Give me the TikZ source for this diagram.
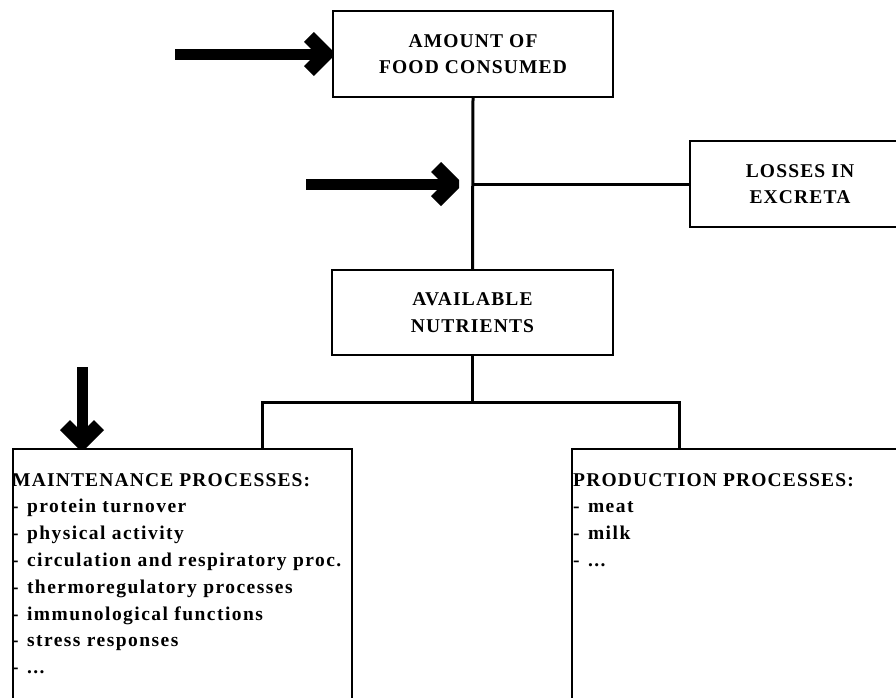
\documentclass[tikz,border=0pt]{standalone}
\usepackage{fontspec}
\setmainfont{Liberation Serif}[LetterSpace=6]
\newfontfamily\bodyfont{Liberation Serif}[LetterSpace=7.5]
\newcommand{\dashitem}{-\kern2pt\ }
\tikzset{
  box/.style={draw, line width=2.2pt, inner sep=0pt, align=center,
    font=\bfseries\fontsize{19.5}{26.5}\selectfont},
  openbox/.style={draw, line width=2.2pt, inner sep=0pt, anchor=north west},
  conn/.style={line width=3pt},
  shaft/.style={line width=11pt},
  chev/.pic={\fill (0,-4)--(-18,-22)--(-27.9,-12.1)--(-15.8,0)--(-27.9,12.1)--(-18,22)--(0,4)--cycle;},
  listtext/.style={inner sep=0pt, align=left, anchor=north west,
    font=\bodyfont\bfseries\fontsize{19.5}{26.8}\selectfont}
}
\begin{document}
\begin{tikzpicture}[x=1pt,y=-1pt]
\useasboundingbox (0,0) rectangle (896,697);
\clip (0,0) rectangle (896,697);
% boxes
\node[box, minimum width=280pt, minimum height=86pt] (food) at (473,54) {AMOUNT OF\\FOOD CONSUMED};
\node[box, minimum width=220pt, minimum height=86pt] (loss) at (800,184) {LOSSES IN\\EXCRETA};
\node[box, minimum width=281pt, minimum height=85pt] (avail) at (472.5,312.5) {AVAILABLE\\NUTRIENTS};
\node[openbox, minimum width=339pt, minimum height=300pt] (maint) at (12,448) {};
\node[openbox, minimum width=360pt, minimum height=300pt] (prod) at (571,448) {};
% box texts
\node[listtext] (mtext) at (12,473) {{\normalfont\bfseries MAINTENANCE PROCESSES:}\\\dashitem protein turnover\\\dashitem physical activity\\\dashitem circulation and respiratory proc.\\\dashitem thermoregulatory processes\\\dashitem immunological functions\\\dashitem stress responses\\\dashitem ...};
\node[listtext] (ptext) at (573,473) {{\normalfont\bfseries PRODUCTION PROCESSES:}\\\dashitem meat\\\dashitem milk\\\dashitem ...};
% connectors
\coordinate (j) at (food.south |- loss.west);
\draw[conn] (food.south) -- (avail.north);
\draw[conn] (j) -- (loss.west);
\coordinate (b) at (472.5,402);
\coordinate (mt) at (262,448);
\coordinate (pt) at (679,448);
\draw[conn] (avail.south) -- (b);
\draw[conn] (b) -| (mt);
\draw[conn] (b) -| (pt);
% big arrows
\coordinate (a1) at (175,54);
\draw[shaft] (a1) -- ([xshift=-15pt]food.west);
\path (food.west) pic {chev};
\coordinate (a2t) at ([xshift=-14pt]j);
\coordinate (a2) at ([xshift=-153pt]a2t);
\draw[shaft] (a2) -- ([xshift=-15pt]a2t);
\path (a2t) pic {chev};
\coordinate (a3) at (82,367);
\coordinate (a3t) at ([xshift=70pt]maint.north west);
\draw[shaft] (a3) -- ([yshift=15pt]a3t);
\path (a3t) pic[rotate=-90] {chev};
\end{tikzpicture}
\end{document}
